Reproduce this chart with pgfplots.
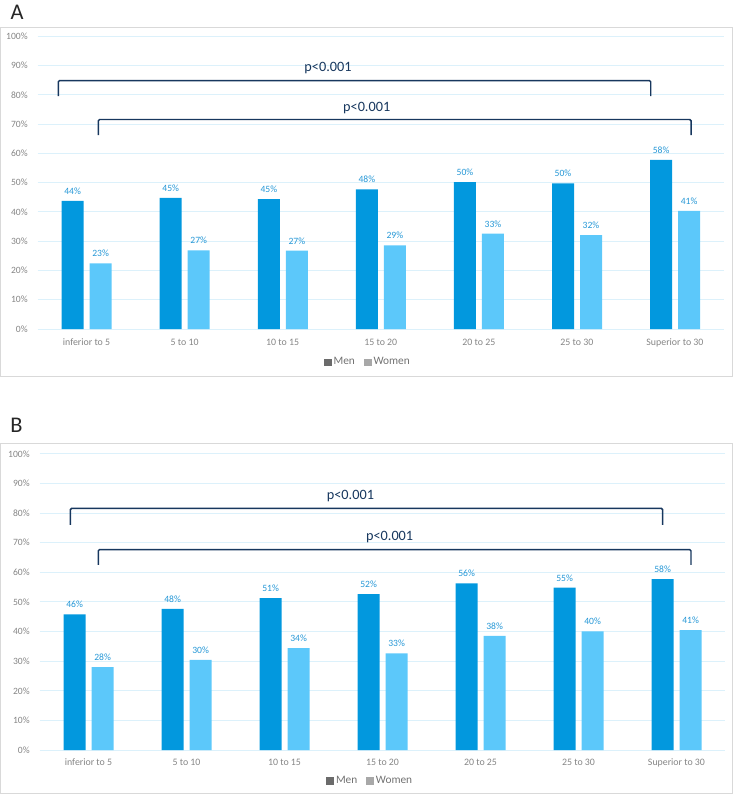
\documentclass[border=0pt]{standalone}
\usepackage{pgfplots}
\usepackage{pgfplotstable}
\pgfplotsset{compat=1.18}
\usepackage{fontspec}
\setmainfont{Carlito}
\definecolor{men}{HTML}{0298DE}
\definecolor{women}{HTML}{5CC8FA}
\definecolor{gridblue}{HTML}{DCF1FB}
\definecolor{tickgray}{HTML}{858585}
\definecolor{labblue}{HTML}{2597D6}
\definecolor{navy}{HTML}{17375E}
\definecolor{framegray}{HTML}{D9D9D9}
\definecolor{legmen}{HTML}{6B6B6B}
\definecolor{legwomen}{HTML}{A8A8A8}

% Panel A
\pgfplotstableread{
x y lab
0 43.8 44
1 44.8 45
2 44.4 45
3 47.7 48
4 50.2 50
5 49.8 50
6 57.8 58
}\menA
\pgfplotstableread{
x y lab
0 22.4 23
1 26.9 27
2 26.8 27
3 28.6 29
4 32.6 33
5 32.1 32
6 40.4 41
}\womenA
% Panel B
\pgfplotstableread{
x y lab
0 45.8 46
1 47.7 48
2 51.3 51
3 52.6 52
4 56.3 56
5 54.8 55
6 57.7 58
}\menB
\pgfplotstableread{
x y lab
0 28.0 28
1 30.4 30
2 34.4 34
3 32.6 33
4 38.5 38
5 40.1 40
6 40.5 41
}\womenB

\tikzset{
  brk/.style={draw=navy, line width=1.1pt, rounded corners=1pt},
  plab/.style={text=navy, font=\fontsize{10.7}{12}\selectfont, inner sep=0pt},
}

\pgfplotsset{
  panel/.style={
    scale only axis, clip=false,
    xmin=-0.5, xmax=6.5, ymin=0, ymax=100,
    axis line style={draw=none}, major tick length=0pt,
    ymajorgrids, grid style={draw=gridblue, line width=0.75pt},
    ytick={0,10,...,100}, yticklabel={\pgfmathprintnumber{\tick}\%},
    xtick={0,...,6},
    xticklabels={inferior to 5,5 to 10,10 to 15,15 to 20,20 to 25,25 to 30,Superior to 30},
    ticklabel style={font=\fontsize{7.2}{8}\selectfont, text=tickgray},
    xticklabel style={font=\fontsize{7.4}{8}\selectfont},
    yticklabel style={anchor=east, inner sep=0pt, xshift=-7.2pt},
    /pgf/number format/assume math mode=true,
    legend style={draw=none, fill=none, font=\fontsize{8.5}{10}\selectfont\color{tickgray!85!black},
      legend columns=2, anchor=center, nodes={inner sep=1.8pt},
      /tikz/every even column/.append style={column sep=5pt}},
    legend cell align=left,
    nodes near coords style={font=\fontsize{7.2}{8}\selectfont, text=labblue,
      anchor=south, inner sep=0pt, yshift=4.6pt},
  },
  menbar/.style={ybar, bar width=16.5pt, bar shift=-10.4pt, fill=men, draw=none,
    forget plot, point meta=explicit,
    every node near coord/.append style={xshift=-10.4pt},
    nodes near coords={\pgfmathprintnumber[fixed,precision=0]{\pgfplotspointmeta}\%}},
  womenbar/.style={ybar, bar width=16.5pt, bar shift=10.6pt, fill=women, draw=none,
    forget plot, point meta=explicit,
    every node near coord/.append style={xshift=10.6pt},
    nodes near coords={\pgfmathprintnumber[fixed,precision=0]{\pgfplotspointmeta}\%}},
}

\begin{document}
\begin{tikzpicture}
\useasboundingbox (0pt,0pt) rectangle (550.5pt,-596.25pt);

% ---------------- Panel A
\begin{axis}[panel, at={(28.125pt,-246.75pt)}, anchor=south west,
  width=514.875pt, height=219.45pt,
  xticklabel style={anchor=base, inner sep=0pt, yshift=-12.5pt},
  legend style={at={(0.4815,-0.114)}}]
\addplot[menbar] table[x=x, y=y, meta=lab]{\menA};
\addplot[womenbar] table[x=x, y=y, meta=lab]{\womenA};
\addlegendimage{legend image code/.code={\fill[legmen] (0pt,-2.5pt) rectangle (5pt,2.5pt);}}
\addlegendimage{legend image code/.code={\fill[legwomen] (0pt,-2.5pt) rectangle (5pt,2.5pt);}}
\legend{Men, Women}
\draw[brk] (axis cs:-0.288,79.6) -- (axis cs:-0.288,84.9) -- (axis cs:5.753,84.9) -- (axis cs:5.753,79.6);
\draw[brk] (axis cs:0.120,66.3) -- (axis cs:0.120,71.6) -- (axis cs:6.164,71.6) -- (axis cs:6.164,66.3);
\node[plab] at (axis cs:2.462,89.3) {p<0.001};
\node[plab] at (axis cs:2.857,75.4) {p<0.001};
\end{axis}

% ---------------- Panel B
\begin{axis}[panel, at={(29.625pt,-562.5pt)}, anchor=south west,
  width=514.5pt, height=222.1pt,
  xticklabel style={anchor=base, inner sep=0pt, yshift=-11.8pt},
  legend style={at={(0.4825,-0.1047)}}]
\addplot[menbar] table[x=x, y=y, meta=lab]{\menB};
\addplot[womenbar] table[x=x, y=y, meta=lab]{\womenB};
\addlegendimage{legend image code/.code={\fill[legmen] (0pt,-2.5pt) rectangle (5pt,2.5pt);}}
\addlegendimage{legend image code/.code={\fill[legwomen] (0pt,-2.5pt) rectangle (5pt,2.5pt);}}
\legend{Men, Women}
\draw[brk] (axis cs:-0.186,76.0) -- (axis cs:-0.186,81.6) -- (axis cs:5.859,81.6) -- (axis cs:5.859,76.0);
\draw[brk] (axis cs:0.100,62.5) -- (axis cs:0.100,67.7) -- (axis cs:6.148,67.7) -- (axis cs:6.148,62.5);
\node[plab] at (axis cs:2.673,85.9) {p<0.001};
\node[plab] at (axis cs:3.073,71.8) {p<0.001};
\end{axis}

% frames and panel letters (pixel units, y downward)
\begin{scope}[x=0.75pt, y=-0.75pt]
\draw[framegray, line width=0.75pt] (0.5,27.5) rectangle (732.5,376.7);
\draw[framegray, line width=0.75pt] (0.5,443.3) rectangle (732.5,793.8);
\node[font=\fontsize{16.8}{18}\selectfont, text=black!85, inner sep=0pt] at (17,12) {A};
\node[font=\fontsize{16.8}{18}\selectfont, text=black!85, inner sep=0pt] at (16.5,425.5) {B};
\end{scope}
\end{tikzpicture}
\end{document}
